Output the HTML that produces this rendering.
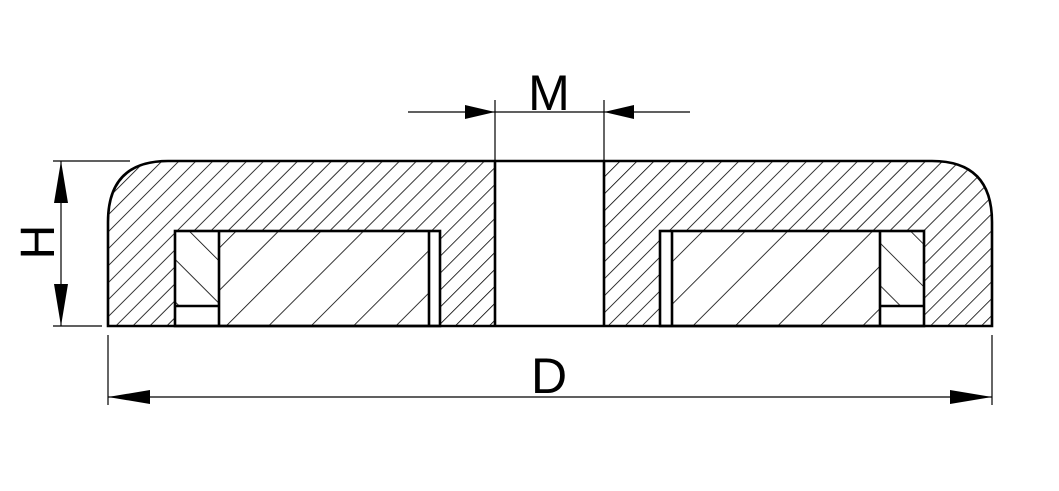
<!DOCTYPE html>
<html><head><meta charset="utf-8"><style>
html,body{margin:0;padding:0;background:#fff;}
svg{display:block}
text{font-family:"Liberation Sans",Arial,sans-serif;fill:#000}
</style></head><body>
<svg width="1059" height="491" viewBox="0 0 1059 491" xmlns="http://www.w3.org/2000/svg">
<defs>
<pattern id="h1" patternUnits="userSpaceOnUse" width="12" height="12" patternTransform="rotate(45)">
<line x1="0" y1="0" x2="0" y2="12" stroke="#000" stroke-width="1.6"/></pattern>
<pattern id="h2" patternUnits="userSpaceOnUse" width="30" height="30" patternTransform="rotate(45)">
<line x1="0" y1="0" x2="0" y2="30" stroke="#000" stroke-width="1.6"/></pattern>
<pattern id="h3" patternUnits="userSpaceOnUse" width="30" height="30" patternTransform="rotate(-45)">
<line x1="0" y1="0" x2="0" y2="30" stroke="#000" stroke-width="1.6"/></pattern>
</defs>
<path d="M108,326 L108,222 Q108,161 168,161 L932,161 Q992,161 992,222 L992,326 Z" fill="url(#h1)"/>
<rect x="495" y="161" width="109" height="165" fill="#fff"/>
<rect x="175" y="231" width="265" height="95" fill="#fff"/>
<rect x="660" y="231" width="264" height="95" fill="#fff"/>
<rect x="219" y="231" width="210" height="95" fill="url(#h2)"/>
<rect x="672" y="231" width="208" height="95" fill="url(#h2)"/>
<rect x="175" y="231" width="44" height="75" fill="url(#h3)"/>
<rect x="880" y="231" width="44" height="75" fill="url(#h3)"/>
<g fill="none" stroke="#000" stroke-width="2.6">
<path d="M108,326 L108,222 Q108,161 168,161 L932,161 Q992,161 992,222 L992,326 Z"/>
<line x1="495" y1="161" x2="495" y2="326"/>
<line x1="604" y1="161" x2="604" y2="326"/>
<rect x="175" y="231" width="265" height="95"/>
<rect x="660" y="231" width="264" height="95"/>
<line x1="219" y1="231" x2="219" y2="326"/>
<line x1="429" y1="231" x2="429" y2="326"/>
<line x1="175" y1="306" x2="219" y2="306"/>
<line x1="672" y1="231" x2="672" y2="326"/>
<line x1="880" y1="231" x2="880" y2="326"/>
<line x1="880" y1="306" x2="924" y2="306"/>
</g>
<g stroke="#000" stroke-width="1.2">
<line x1="408" y1="112" x2="690" y2="112"/>
<line x1="495" y1="100" x2="495" y2="161"/>
<line x1="604" y1="100" x2="604" y2="161"/>
<line x1="53" y1="161" x2="130" y2="161"/>
<line x1="53" y1="326" x2="102" y2="326"/>
<line x1="61" y1="161" x2="61" y2="326"/>
<line x1="108" y1="335" x2="108" y2="405"/>
<line x1="992" y1="335" x2="992" y2="405"/>
<line x1="108" y1="397" x2="992" y2="397"/>
</g>
<g fill="#000">
<polygon points="495,112 465,105 465,119"/>
<polygon points="604,112 634,105 634,119"/>
<polygon points="61,161 54,203 68,203"/>
<polygon points="61,326 54,284 68,284"/>
<polygon points="108,397 150,390 150,404"/>
<polygon points="992,397 950,390 950,404"/>
</g>
<text x="549" y="110" font-size="50" text-anchor="middle">M</text>
<text x="549" y="393" font-size="50" text-anchor="middle">D</text>
<text transform="translate(54,242) rotate(-90)" font-size="48" text-anchor="middle">H</text>
</svg>
</body></html>
